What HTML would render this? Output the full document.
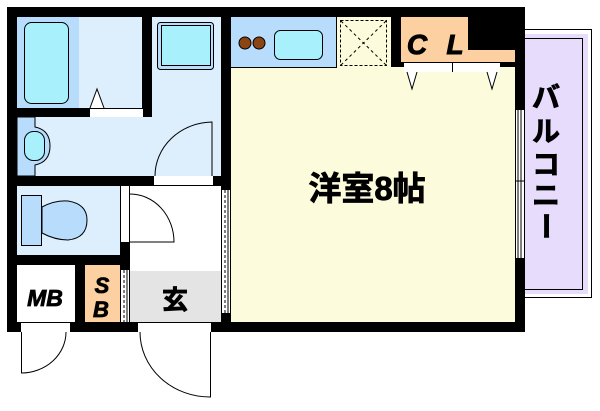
<!DOCTYPE html>
<html><head><meta charset="utf-8"><style>
html,body{margin:0;padding:0;background:#fff;width:600px;height:411px;overflow:hidden}
svg{display:block}
text{font-family:"Liberation Sans","Noto Sans CJK JP",sans-serif;font-weight:bold}
</style></head><body>
<svg width="600" height="411" viewBox="0 0 600 411" xmlns="http://www.w3.org/2000/svg">
<rect x="0" y="0" width="600" height="411" fill="#fff"/>
<rect x="524.5" y="29.5" width="67" height="268" fill="#fff" stroke="#000"/>
<rect x="525" y="34" width="63" height="260" fill="#e8dcfc"/>
<rect x="524.5" y="38.5" width="58" height="251" fill="none" stroke="#000"/>
<rect x="7" y="7" width="518" height="325" fill="#000"/>
<rect x="17" y="17" width="62" height="91" fill="#b8dcfc"/>
<rect x="79" y="17" width="63" height="91" fill="#ddeefc"/>
<rect x="24.5" y="22.5" width="44" height="81" rx="7" fill="#a8f0fc" stroke="#000"/>
<path d="M90 108 L97 89 L104 108" fill="#fff" stroke="#000"/>
<rect x="90" y="108" width="53" height="9" fill="#fff"/>
<line x1="90" y1="108.5" x2="143" y2="108.5" stroke="#000"/>
<rect x="152" y="17" width="69" height="159" fill="#ddeefc"/>
<rect x="17" y="117" width="204" height="59" fill="#ddeefc"/>
<rect x="157.5" y="22.5" width="56" height="47" rx="3" fill="#b8dcfc" stroke="#000"/>
<rect x="161.5" y="25.5" width="49" height="40" fill="#a8f0fc" stroke="#000"/>
<path d="M17 117 H35 V127 Q50 130 50 146 Q50 162 35 165 V176 H17 Z" fill="#b8dcfc" stroke="#000"/>
<rect x="24.5" y="131.5" width="20" height="29" rx="9" fill="#a8f0fc" stroke="#000"/>
<path d="M212 176 V122 A58 54 0 0 0 155 176" fill="none" stroke="#000"/>
<rect x="154" y="176" width="59" height="10" fill="#fff"/>
<line x1="154" y1="185.5" x2="213" y2="185.5" stroke="#000"/>
<rect x="17" y="186" width="103" height="69" fill="#ddeefc"/>
<rect x="21.5" y="195.5" width="20" height="50" fill="#b8dcfc" stroke="#000"/>
<path d="M42 207 Q55 200 68 201 Q87 204 87 220 Q87 238 68 240 Q55 240 42 233 Z" fill="#b8dcfc" stroke="#000"/>
<rect x="120" y="186" width="10" height="56" fill="#fff"/>
<line x1="120.5" y1="186" x2="120.5" y2="242" stroke="#000"/>
<line x1="129.5" y1="186" x2="129.5" y2="242" stroke="#000"/>
<rect x="130" y="186" width="91" height="85" fill="#fff"/>
<rect x="130" y="271" width="91" height="51" fill="#e4e4e4"/>
<path d="M130 242 H174 A44 48 0 0 0 130 194" fill="none" stroke="#000"/>
<text x="175" y="309" font-size="26" text-anchor="middle" stroke="#000" stroke-width="0.8">玄</text>
<rect x="17" y="265" width="58" height="57" fill="#fff"/>
<rect x="85" y="265" width="35" height="57" fill="#fcd0a0"/>
<text x="45" y="306" font-size="23" text-anchor="middle" font-style="italic" stroke="#000" stroke-width="0.8">MB</text>
<text x="102" y="293" font-size="22" text-anchor="middle" font-style="italic" stroke="#000" stroke-width="0.8">S</text>
<text x="101" y="317" font-size="22" text-anchor="middle" font-style="italic" stroke="#000" stroke-width="0.8">B</text>
<rect x="121" y="270" width="8" height="52" fill="#fff"/>
<line x1="124" y1="270" x2="124" y2="322" stroke="#000" stroke-dasharray="3,2"/>
<line x1="127" y1="270" x2="127" y2="322" stroke="#000"/>
<rect x="222" y="190" width="8" height="123" fill="#fff"/>
<line x1="225" y1="190" x2="225" y2="313" stroke="#000" stroke-dasharray="3,2"/>
<line x1="228" y1="190" x2="228" y2="313" stroke="#000"/>
<rect x="21" y="322" width="49" height="10" fill="#fff"/>
<line x1="21" y1="322.5" x2="70" y2="322.5" stroke="#000"/>
<path d="M21.5 332 V373 A45 41 0 0 0 66 332" fill="none" stroke="#000"/>
<rect x="138" y="322" width="73" height="10" fill="#fff"/>
<line x1="138" y1="322.5" x2="211" y2="322.5" stroke="#000"/>
<path d="M210.5 332 V397 A70 65 0 0 1 140 332" fill="none" stroke="#000"/>
<rect x="231" y="67" width="284" height="255" fill="#fcfcdc"/>
<rect x="231" y="17" width="105" height="50" fill="#b8dcfc"/>
<line x1="231" y1="67.5" x2="336" y2="67.5" stroke="#000"/>
<line x1="336.5" y1="17" x2="336.5" y2="68" stroke="#000"/>
<circle cx="245" cy="43" r="6" fill="#8b4513" stroke="#000"/>
<circle cx="259" cy="43" r="6" fill="#8b4513" stroke="#000"/>
<rect x="274.5" y="30.5" width="48" height="29" rx="6" fill="#a8f0fc" stroke="#000"/>
<rect x="337" y="17" width="54" height="50" fill="#fcfcdc"/>
<rect x="340.5" y="20.5" width="46" height="45" fill="none" stroke="#000" stroke-dasharray="3,2"/>
<path d="M341 21 L386 65 M386 21 L341 65" stroke="#000" stroke-dasharray="3,3"/>
<rect x="401" y="17" width="67" height="45" fill="#fcd0a0"/>
<rect x="468" y="50" width="47" height="12" fill="#fcd0a0"/>
<text x="417" y="54" font-size="28" text-anchor="middle" font-style="italic" stroke="#000" stroke-width="1">C</text>
<text x="455" y="54" font-size="28" text-anchor="middle" font-style="italic" stroke="#000" stroke-width="1">L</text>
<rect x="404" y="63" width="96" height="9" fill="#fff"/>
<line x1="452.5" y1="62" x2="452.5" y2="72" stroke="#000"/>
<path d="M407 72 L412 89 L417 72" fill="#fff" stroke="#000"/>
<path d="M487 72 L492 89 L497 72" fill="#fff" stroke="#000"/>
<text x="367" y="200" font-size="33" text-anchor="middle" stroke="#000" stroke-width="0.8">洋室8帖</text>
<rect x="516" y="110" width="8" height="148" fill="#fff"/>
<line x1="518" y1="110" x2="518" y2="258" stroke="#000"/>
<line x1="521" y1="110" x2="521" y2="258" stroke="#000"/>
<line x1="515" y1="181" x2="524" y2="181" stroke="#000"/>
<g font-size="28" text-anchor="middle" stroke="#000" stroke-width="0.8">
<text x="546" y="107">バ</text>
<text x="546" y="141">ル</text>
<text x="546" y="174">コ</text>
<text x="546" y="205">ニ</text>
<text x="546" y="236" transform="rotate(90 546 226)">ー</text>
</g>
</svg>
</body></html>
